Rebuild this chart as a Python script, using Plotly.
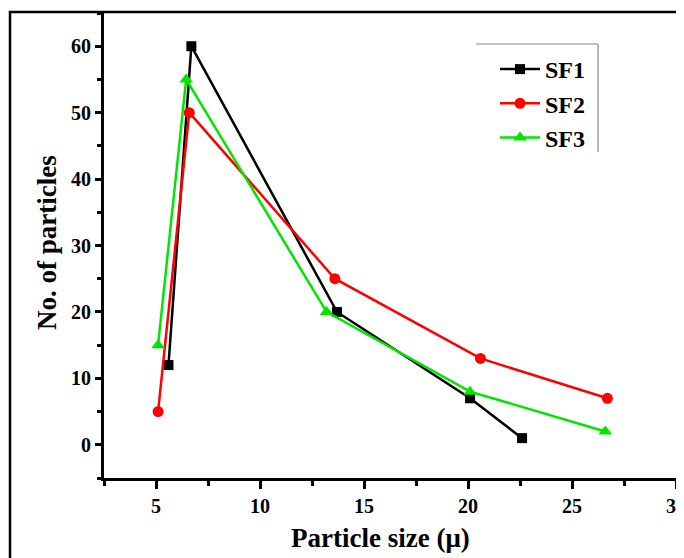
import plotly.graph_objects as go

series_names = ["SF1", "SF2", "SF3"]
sf1_x = [5.6, 6.7, 13.7, 20.1, 22.6]
sf1_y = [12, 60, 20, 7, 1]
sf2_x = [5.1, 6.6, 13.6, 20.6, 26.7]
sf2_y = [5, 50, 25, 13, 7]
sf3_x = [5.1, 6.45, 13.2, 20.1, 26.6]
sf3_y = [15, 55, 20, 8, 2]
x_ticks = [5, 10, 15, 20, 25, 30]
y_ticks = [0, 10, 20, 30, 40, 50, 60]

FONT = "Liberation Serif"
OFF = 8  # page body margin
W, H = 684, 558 - OFF
# plot area in screen pixels
SL, ST, SR, SB = 104, 13, 676, 478
L, T = SL - OFF, ST - OFF
R, B = W - (SR - OFF), H - (SB - OFF)

fig = go.Figure()
styles = [
    ("#000000", "square", 10),
    ("#ff0000", "circle", 11),
    ("#00e600", "triangle-up", 12),
]
for name, xs, ys, (col, sym, sz) in zip(series_names, [sf1_x, sf2_x, sf3_x], [sf1_y, sf2_y, sf3_y], styles):
    fig.add_trace(go.Scatter(
        x=xs, y=ys, name=name, mode="lines+markers",
        line=dict(color=col, width=2.5),
        marker=dict(color=col, symbol=sym, size=sz),
    ))

axis_common = dict(
    showgrid=False, zeroline=False, showline=True, linecolor="black", linewidth=3,
    ticks="outside", tickcolor="black", tickwidth=2.5, automargin=False,
    ticklabeloverflow="allow",
    tickfont=dict(family=FONT, size=20, color="black", weight="bold"),
)
fig.update_xaxes(range=[2.5, 30], tickvals=x_ticks, ticklen=8,
                 minor=dict(ticks="outside", dtick=2.5, tick0=0, ticklen=5, tickwidth=2.5, tickcolor="black"),
                 **axis_common)
fig.update_yaxes(range=[-5, 65], tickvals=y_ticks, ticklen=6,
                 minor=dict(ticks="outside", dtick=5, tick0=0, ticklen=4, tickwidth=2.5, tickcolor="black"),
                 **axis_common)

pw = SR - SL
ph = SB - ST
def px(xs):
    return (xs - SL) / pw
def py(ys):
    return (SB - ys) / ph

shapes = [
    dict(type="rect", xref="paper", yref="paper", x0=px(10), x1=px(760), y0=py(620), y1=py(12),
         line=dict(color="black", width=2.5), layer="above"),
    dict(type="line", xref="paper", yref="paper", x0=px(476), x1=px(598), y0=py(44), y1=py(44),
         line=dict(color="#888888", width=1.2)),
    dict(type="line", xref="paper", yref="paper", x0=px(598), x1=px(598), y0=py(44), y1=py(152),
         line=dict(color="#888888", width=1.2)),
]

annotations = [
    dict(text="Particle size (μ)", xref="paper", yref="paper", x=px(380), y=py(538),
         showarrow=False, font=dict(family=FONT, size=27, color="black", weight="bold"),
         xanchor="center", yanchor="middle"),
    dict(text="No. of particles", xref="paper", yref="paper", x=px(47), y=py(243),
         showarrow=False, textangle=-90, font=dict(family=FONT, size=27, color="black", weight="bold"),
         xanchor="center", yanchor="middle"),
]

fig.update_layout(
    width=W, height=H,
    margin=dict(l=L, r=R, t=T, b=B, autoexpand=False),
    paper_bgcolor="white", plot_bgcolor="white",
    showlegend=True,
    legend=dict(x=px(495), y=py(47), xanchor="left", yanchor="top",
                font=dict(family=FONT, size=24, color="black", weight="bold"),
                bgcolor="rgba(0,0,0,0)", borderwidth=0, tracegroupgap=0,
                itemwidth=40),
    shapes=shapes,
    annotations=annotations,
)

fig.write_html("out.html")
